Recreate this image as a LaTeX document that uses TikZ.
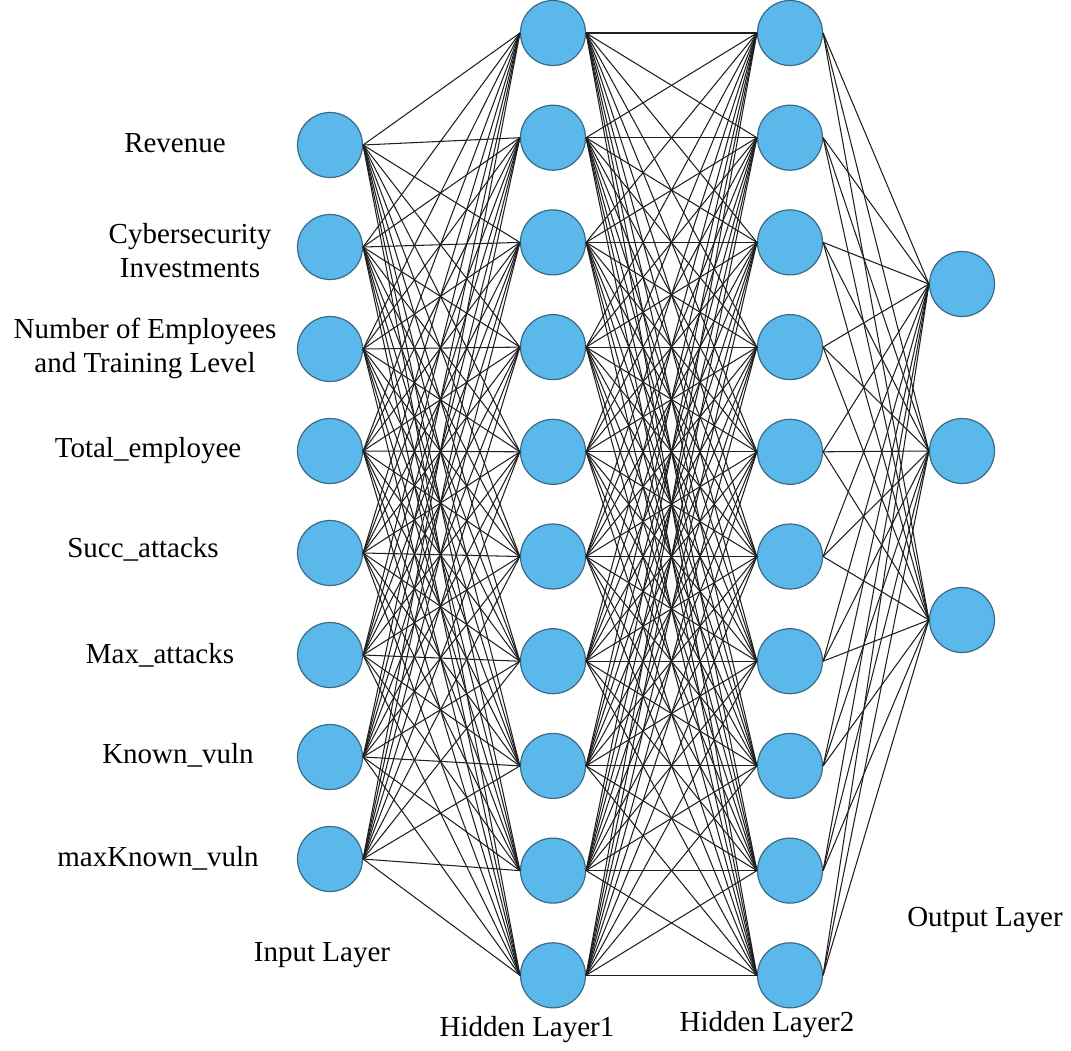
\documentclass[tikz,border=0pt]{standalone}
\usepackage{fontspec}
\setmainfont{Liberation Serif}
\begin{document}
\begin{tikzpicture}[x=1pt,y=-1pt,
  neuron/.style={circle,line width=1.2pt,minimum size=65pt,inner sep=0pt},
  link/.style={draw=black!88,line width=1.05pt},
  lbl/.style={font=\fontsize{29}{34}\selectfont,align=center,inner sep=0pt}]
\definecolor{nfill}{HTML}{5BB8EA}
\definecolor{nline}{HTML}{3B6A88}
\tikzset{neuron/.append style={fill=nfill,draw=nline}}
\useasboundingbox (0,0) rectangle (1071,1050);

% input layer
\foreach \i in {1,...,8}
  \node[neuron] (in\i) at (330,{145+102*(\i-1)}) {};
% hidden layers
\foreach \i in {1,...,10} {
  \node[neuron] (ha\i) at (553,{33+104.7*(\i-1)}) {};
  \node[neuron] (hb\i) at (790,{33+104.7*(\i-1)}) {};
}
% output layer
\node[neuron] (out1) at (962,284) {};
\node[neuron] (out2) at (962,451) {};
\node[neuron] (out3) at (962,620) {};

% fully connected weights
\foreach \i in {1,...,8}
  \foreach \j in {1,...,10}
    \draw[link] (in\i.east) -- (ha\j.west);
\foreach \i in {1,...,10}
  \foreach \j in {1,...,10}
    \draw[link] (ha\i.east) -- (hb\j.west);
\foreach \i in {1,...,10}
  \foreach \j in {1,2,3}
    \draw[link] (hb\i.east) -- (out\j.west);

% feature names
\node[lbl] (t1) at (175,143) {Revenue};
\node[lbl] (t2) at (190,251) {Cybersecurity\\Investments};
\node[lbl] (t3) at (145,348) {Number of Employees\\and Training Level};
\node[lbl] (t4) at (148,451) {Total\_employee};
\node[lbl] (t5) at (143,549) {Succ\_attacks};
\node[lbl] (t6) at (160,655) {Max\_attacks};
\node[lbl] (t7) at (178,755) {Known\_vuln};
\node[lbl] (t8) at (158,858) {maxKnown\_vuln};

% layer titles
\node[lbl] (lin) at (322,955) {Input Layer};
\node[lbl] (lh1) at (527,1030) {Hidden Layer1};
\node[lbl] (lh2) at (767,1025) {Hidden Layer2};
\node[lbl] (lout) at (985,920) {Output Layer};
\end{tikzpicture}
\end{document}
